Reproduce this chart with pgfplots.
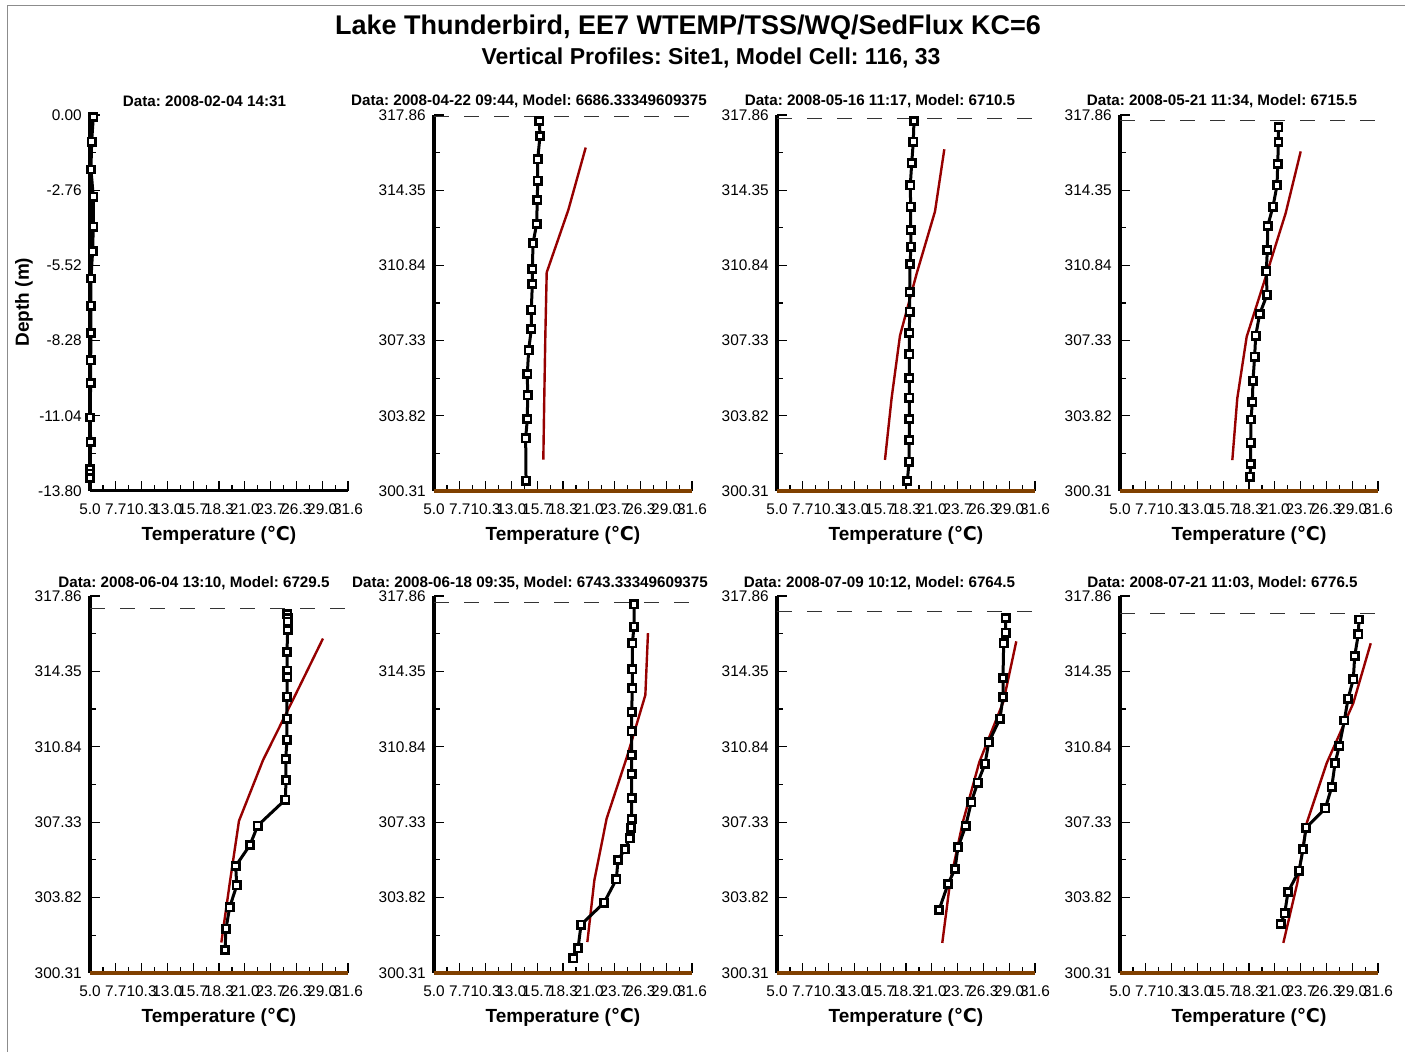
\documentclass[border=0pt]{standalone}
\usepackage{pgfplots}
\pgfplotsset{compat=1.18}
\usepackage{fontspec}
\setmainfont{Liberation Sans}
\newfontfamily\djv{DejaVu Sans}
\frenchspacing
\definecolor{modred}{RGB}{150,0,0}
\definecolor{bedbrown}{RGB}{128,64,0}
\newcommand\ticksize{\fontsize{15.4bp}{18bp}\selectfont}
\newcommand\ptsize{\fontsize{15.2bp}{18bp}\selectfont\bfseries}
\newcommand\lblsize{\fontsize{19bp}{22bp}\selectfont\bfseries}
\newcommand\degC{{\djv\bfseries ℃}}
\pgfplotsset{
 panel/.style={scale only axis, width=258bp, height=376bp, xmin=5, xmax=31.6,
  enlargelimits=false, axis x line=bottom, axis y line=left,
  axis line style={-}, x axis line style={line width=3bp}, y axis line style={line width=4bp},
  tick align=inside, major tick length=10bp, minor tick length=6bp,
  tick style={black, line width=1.2bp},
  xtick={5,7.66,10.32,12.98,15.64,18.30,20.96,23.62,26.28,28.94,31.6},
  xticklabels={5.0,7.7,10.3,13.0,15.7,18.3,21.0,23.7,26.3,29.0,31.6},
  minor x tick num=1, minor y tick num=1,
  ticklabel style={font=\ticksize},
  xticklabel style={anchor=north, inner sep=0pt, yshift=-12.5bp},
  yticklabel style={anchor=east, inner sep=0pt, xshift=-8bp},
  clip=false, anchor=south west},
 elev/.style={ymin=300.31, ymax=317.86,
  ytick={300.31,303.82,307.33,310.84,314.35,317.86},
  yticklabels={300.31,303.82,307.33,310.84,314.35,317.86}},
 obs/.style={black, line width=3bp, mark=square*, mark size=3.6bp,
  mark options={fill=white, draw=black, line width=2.6bp, solid}},
 mod/.style={color=modred, line width=2.4bp, no markers},
 ws/.style={black!80, line width=1.3bp, dash pattern=on 15bp off 15bp, no markers},
 bed/.style={color=bedbrown, line width=3.4bp, no markers},
}
\begin{document}
\begin{tikzpicture}
\useasboundingbox (0bp,0bp) rectangle (1405bp,1052bp);
\fill[white] (0bp,0bp) rectangle (1405bp,1052bp);
\draw[black!45, line width=1bp] (7.5bp,0bp) -- (7.5bp,1046.5bp) -- (1405bp,1046.5bp);
% Titles
\node[font=\fontsize{27bp}{30bp}\selectfont\bfseries] at (688bp,1024.5bp) {Lake Thunderbird, EE7 WTEMP/TSS/WQ/SedFlux KC=6};
\node[font=\fontsize{23bp}{26bp}\selectfont\bfseries] at (711bp,994bp) {Vertical Profiles: Site1, Model Cell: 116, 33};

% ---------- Panel 1
\begin{axis}[panel, at={(90bp,561bp)}, ymin=-13.8, ymax=0,
  ytick={-13.8,-11.04,-8.28,-5.52,-2.76,0},
  yticklabels={-13.80,-11.04,-8.28,-5.52,-2.76,0.00}]
\addplot[obs] coordinates {(5.34,-0.08) (5.17,-0.98) (5.10,-2.0) (5.34,-3.0) (5.34,-4.1) (5.27,-5.0) (5.10,-6.0) (5.10,-7.0) (5.10,-8.0) (5.07,-9.0) (5.07,-9.84) (5.0,-11.1) (5.07,-12.0) (5.0,-13.0) (5.0,-13.16) (5.0,-13.33)};
\end{axis}

% ---------- Panel 2
\begin{axis}[panel, elev, at={(434bp,561bp)}]
\addplot[bed] coordinates {(5,300.31) (31.6,300.31)};
\addplot[ws] coordinates {(5,317.8) (31.6,317.8)};
\addplot[mod] coordinates {(16.27,301.77) (16.37,304.68) (16.48,307.60) (16.62,310.51) (18.85,313.43) (20.64,316.34)};
\addplot[obs] coordinates {(15.86,317.58) (15.93,316.88) (15.69,315.79) (15.69,314.79) (15.65,313.89) (15.58,312.77) (15.21,311.87) (15.14,310.67) (15.14,309.97) (15.03,308.77) (15.03,307.87) (14.76,306.88) (14.62,305.77) (14.66,304.78) (14.62,303.67) (14.45,302.77) (14.49,300.79)};
\end{axis}

% ---------- Panel 3
\begin{axis}[panel, elev, at={(777bp,561bp)}]
\addplot[bed] coordinates {(5,300.31) (31.6,300.31)};
\addplot[ws] coordinates {(5,317.71) (31.6,317.71)};
\addplot[mod] coordinates {(16.13,301.76) (16.82,304.66) (17.68,307.56) (19.40,310.46) (21.29,313.36) (22.25,316.26)};
\addplot[obs] coordinates {(19.12,317.58) (19.05,316.61) (18.89,315.61) (18.74,314.58) (18.78,313.58) (18.78,312.49) (18.82,311.71) (18.71,310.90) (18.68,309.60) (18.68,308.68) (18.64,307.68) (18.64,306.69) (18.64,305.58) (18.64,304.66) (18.64,303.67) (18.64,302.69) (18.61,301.68) (18.44,300.77)};
\end{axis}

% ---------- Panel 4
\begin{axis}[panel, elev, at={(1120bp,561bp)}]
\addplot[bed] coordinates {(5,300.31) (31.6,300.31)};
\addplot[ws] coordinates {(5,317.6) (31.6,317.6)};
\addplot[mod] coordinates {(16.58,301.75) (17.09,304.63) (18.06,307.51) (20.09,310.40) (22.08,313.28) (23.63,316.16)};
\addplot[obs] coordinates {(21.33,317.29) (21.33,316.59) (21.26,315.57) (21.19,314.58) (20.77,313.58) (20.23,312.68) (20.19,311.56) (20.08,310.56) (20.16,309.47) (19.40,308.57) (18.99,307.56) (18.88,306.58) (18.71,305.46) (18.64,304.46) (18.51,303.65) (18.47,302.56) (18.47,301.57) (18.40,300.98)};
\end{axis}

% ---------- Panel 5
\begin{axis}[panel, elev, height=377bp, at={(90bp,79bp)}]
\addplot[bed] coordinates {(5,300.31) (31.6,300.31)};
\addplot[ws] coordinates {(5,317.29) (31.6,317.29)};
\addplot[mod] coordinates {(18.54,301.73) (19.43,304.56) (20.36,307.39) (22.84,310.22) (25.95,313.05) (29.02,315.88)};
\addplot[obs] coordinates {(25.34,317.01) (25.38,316.82) (25.38,316.66) (25.38,316.28) (25.31,315.25) (25.34,314.38) (25.34,314.08) (25.31,313.17) (25.31,312.15) (25.31,311.17) (25.18,310.27) (25.21,309.28) (25.14,308.38) (22.29,307.17) (21.50,306.27) (20.02,305.29) (20.13,304.39) (19.40,303.37) (19.02,302.37) (18.92,301.38)};
\end{axis}

% ---------- Panel 6
\begin{axis}[panel, elev, height=377bp, at={(434bp,79bp)}]
\addplot[bed] coordinates {(5,300.31) (31.6,300.31)};
\addplot[ws] coordinates {(5,317.57) (31.6,317.57)};
\addplot[mod] coordinates {(20.81,301.75) (21.53,304.62) (22.80,307.50) (24.90,310.38) (26.79,313.25) (27.06,316.13)};
\addplot[obs] coordinates {(25.62,317.47) (25.62,316.43) (25.45,315.66) (25.45,314.45) (25.45,313.56) (25.38,312.46) (25.38,311.56) (25.38,310.46) (25.38,309.57) (25.38,308.46) (25.38,307.47) (25.31,307.07) (25.18,306.58) (24.69,306.07) (23.97,305.57) (23.80,304.67) (22.53,303.58) (20.16,302.56) (19.85,301.46) (19.36,300.99)};
\end{axis}

% ---------- Panel 7
\begin{axis}[panel, elev, height=377bp, at={(777bp,79bp)}]
\addplot[bed] coordinates {(5,300.31) (31.6,300.31)};
\addplot[ws] coordinates {(5,317.15) (31.6,317.15)};
\addplot[mod] coordinates {(22.04,301.71) (22.84,304.52) (24.15,307.32) (25.86,310.13) (28.34,312.94) (29.67,315.75)};
\addplot[obs] coordinates {(28.58,316.84) (28.58,316.15) (28.37,315.66) (28.30,314.04) (28.30,313.16) (27.99,312.15) (26.83,311.05) (26.45,310.05) (25.69,309.17) (25.03,308.26) (24.45,307.15) (23.66,306.16) (23.35,305.15) (22.63,304.45) (21.70,303.24)};
\end{axis}

% ---------- Panel 8
\begin{axis}[panel, elev, height=377bp, at={(1120bp,79bp)}]
\addplot[bed] coordinates {(5,300.31) (31.6,300.31)};
\addplot[ws] coordinates {(5,317.05) (31.6,317.05)};
\addplot[mod] coordinates {(21.84,301.71) (23.28,304.50) (24.25,307.29) (26.31,310.08) (29.05,312.87) (30.85,315.66)};
\addplot[obs] coordinates {(29.64,316.77) (29.57,316.08) (29.20,315.07) (29.05,313.98) (28.51,313.08) (28.13,312.06) (27.61,310.88) (27.17,310.07) (26.83,308.97) (26.17,307.98) (24.18,307.07) (23.87,306.07) (23.46,305.07) (22.32,304.08) (21.98,303.09) (21.57,302.59)};
\end{axis}

% Panel titles
\node[font=\ptsize] at (204.5bp,950.5bp) {Data: 2008-02-04 14:31};
\node[font=\ptsize] at (529bp,950.5bp) {Data: 2008-04-22 09:44, Model: 6686.33349609375};
\node[font=\ptsize] at (880bp,950.5bp) {Data: 2008-05-16 11:17, Model: 6710.5};
\node[font=\ptsize] at (1222bp,950.5bp) {Data: 2008-05-21 11:34, Model: 6715.5};
\node[font=\ptsize] at (194bp,468.5bp) {Data: 2008-06-04 13:10, Model: 6729.5};
\node[font=\ptsize] at (530bp,468.5bp) {Data: 2008-06-18 09:35, Model: 6743.33349609375};
\node[font=\ptsize] at (879.5bp,468.5bp) {Data: 2008-07-09 10:12, Model: 6764.5};
\node[font=\ptsize] at (1222.5bp,468.5bp) {Data: 2008-07-21 11:03, Model: 6776.5};
% Axis labels
\foreach \cx in {219,563,906,1249}{
  \node[font=\lblsize] at (\cx bp,517bp) {Temperature (\degC)};
  \node[font=\lblsize] at (\cx bp,35bp) {Temperature (\degC)};
}
\node[font=\lblsize, rotate=90] at (24bp,750bp) {Depth (m)};
\end{tikzpicture}
\end{document}
